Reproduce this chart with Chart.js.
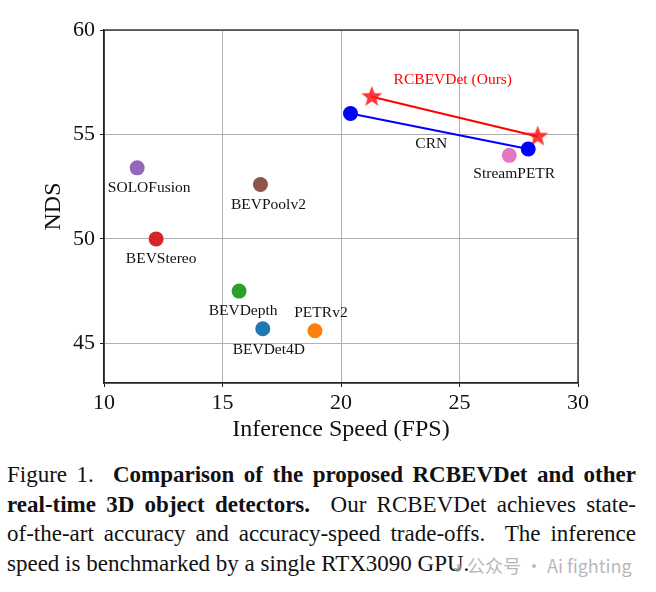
<!DOCTYPE html>
<html>
<head>
<meta charset="utf-8">
<script src="https://cdn.jsdelivr.net/npm/chart.js@4.4.0/dist/chart.umd.min.js"></script>
<style>
  html, body { margin: 0; padding: 0; background: #fff; }
  #wrap { position: relative; width: 656px; height: 448px; }
  .caption {
    font-family: "Liberation Serif", "DejaVu Serif", serif;
    font-size: 23px; line-height: 29.5px; color: #111;
    margin: 12px 0 0 7px; width: 629px;
  }
  .caption div { white-space: nowrap; }
  .caption .j { text-align: justify; text-align-last: justify; }
  .mark {
    position: absolute; left: 452px; top: 552px;
    font-family: "Noto Sans CJK SC", "Noto Sans", sans-serif;
    font-size: 18px; color: rgba(150, 150, 150, 0.7);
  }
</style>
</head>
<body>
<div id="wrap"><canvas id="chart" width="656" height="448"></canvas></div>
<div class="caption">
  <div class="j">Figure 1.&nbsp; <b>Comparison of the proposed RCBEVDet and other</b></div>
  <div class="j"><b>real-time 3D object detectors.</b>&nbsp; Our RCBEVDet achieves state-</div>
  <div class="j">of-the-art accuracy and accuracy-speed trade-offs.&nbsp; The inference</div>
  <div>speed is benchmarked by a single RTX3090 GPU.</div>
</div>
<div class="mark">◕ 公众号 · Ai fighting</div>
<script>
// data
const models = ['BEVDet4D', 'PETRv2', 'BEVDepth', 'BEVStereo', 'SOLOFusion', 'BEVPoolv2', 'StreamPETR'];
const speeds = [16.7, 18.9, 15.7, 12.2, 11.4, 16.6, 27.1];
const ndsValues = [45.7, 45.6, 47.5, 50.0, 53.4, 52.6, 54.0];
const crnSpeeds = [20.4, 27.9];
const crnNds = [56.0, 54.3];
const oursSpeeds = [21.3, 28.3];
const oursNds = [56.8, 54.9];
const xTicks = [10, 15, 20, 25, 30];
const yTicks = [45, 50, 55, 60];

// styling
const colors = ['#1f77b4', '#ff7f0e', '#2ca02c', '#d62728', '#9467bd', '#8c564b', '#e377c2'];
const labelOffsets = [[6, 21], [6, -18], [4, 20], [5, 20], [12, 20], [8, 20], [5, 19]];
const serif = '"Liberation Serif", "DejaVu Serif", serif';

// filled five point star for our method
function makeStar(size, color) {
    const c = document.createElement('canvas');
    c.width = size; c.height = size;
    const g = c.getContext('2d');
    const cx = size / 2, cy = size / 2, ro = size / 2 - 1, ri = ro * 0.42;
    g.beginPath();
    for (let i = 0; i < 10; i++) {
        const r = i % 2 ? ri : ro;
        const a = -Math.PI / 2 + i * Math.PI / 5;
        g.lineTo(cx + r * Math.cos(a), cy + r * Math.sin(a));
    }
    g.closePath();
    g.fillStyle = color;
    g.fill();
    return c;
}
const star = makeStar(24, 'rgba(255, 20, 20, 0.85)');

const datasets = models.map((m, i) => ({
    label: m,
    data: [{ x: speeds[i], y: ndsValues[i] }],
    pointRadius: 7.5,
    pointBackgroundColor: colors[i],
    pointBorderWidth: 0,
    showLine: false,
    labelText: m,
    labelOffset: labelOffsets[i]
}));
datasets.push({
    label: 'CRN',
    data: crnSpeeds.map((x, i) => ({ x: x, y: crnNds[i] })),
    showLine: true,
    borderColor: '#0000ff',
    borderWidth: 2,
    pointRadius: 7.5,
    pointBackgroundColor: '#0000ff',
    pointBorderWidth: 0,
    labelText: 'CRN',
    labelIndex: 1,
    labelOffset: [-97, -5]
});
datasets.push({
    label: 'RCBEVDet (Ours)',
    data: oursSpeeds.map((x, i) => ({ x: x, y: oursNds[i] })),
    showLine: true,
    borderColor: '#ff0000',
    borderWidth: 2,
    pointStyle: star,
    labelText: 'RCBEVDet (Ours)',
    labelColor: '#ff0000',
    labelIndex: 0,
    labelOffset: [81, -17]
});

// text annotations next to the markers
const pointLabels = {
    id: 'pointLabels',
    afterDatasetsDraw(chart) {
        const ctx = chart.ctx;
        ctx.save();
        ctx.font = '15.5px ' + serif;
        ctx.textAlign = 'center';
        ctx.textBaseline = 'middle';
        chart.data.datasets.forEach((ds, di) => {
            const pt = chart.getDatasetMeta(di).data[ds.labelIndex || 0];
            ctx.fillStyle = ds.labelColor || '#111';
            ctx.fillText(ds.labelText, pt.x + ds.labelOffset[0], pt.y + ds.labelOffset[1]);
        });
        ctx.restore();
    }
};

// full box round the plot like matplotlib spines
const frame = {
    id: 'frame',
    afterDraw(chart) {
        const a = chart.chartArea, ctx = chart.ctx;
        ctx.save();
        ctx.strokeStyle = '#222';
        ctx.lineWidth = 1.3;
        ctx.strokeRect(a.left, a.top, a.right - a.left, a.bottom - a.top);
        ctx.restore();
    }
};

new Chart(document.getElementById('chart'), {
    type: 'scatter',
    data: { datasets: datasets },
    options: {
        responsive: false,
        animation: false,
        events: [],
        layout: { padding: { left: 0, top: 30, right: 78, bottom: 0 } },
        plugins: { legend: { display: false }, tooltip: { enabled: false } },
        scales: {
            x: {
                min: 10, max: 30,
                afterBuildTicks: s => { s.ticks = xTicks.map(v => ({ value: v })); },
                afterFit: s => { s.height = 65; },
                grid: { color: '#b0b0b0', lineWidth: 1, tickLength: 4, tickColor: '#222' },
                border: { color: '#222', width: 1.3 },
                ticks: { color: '#111', font: { family: serif, size: 22 }, padding: 3, maxRotation: 0 },
                title: {
                    display: true, text: 'Inference Speed (FPS)', color: '#111',
                    font: { family: serif, size: 24, lineHeight: 1.2 },
                    padding: { top: 0, bottom: 4 }
                }
            },
            y: {
                min: 43.1, max: 60,
                afterBuildTicks: s => { s.ticks = yTicks.map(v => ({ value: v })); },
                afterFit: s => { s.width = 104; },
                grid: { color: '#b0b0b0', lineWidth: 1, tickLength: 4, tickColor: '#222' },
                border: { color: '#222', width: 1.3 },
                ticks: { color: '#111', font: { family: serif, size: 22 }, padding: 5 },
                title: {
                    display: true, text: 'NDS', color: '#111',
                    font: { family: serif, size: 24, lineHeight: 1.2 },
                    padding: { top: 39, bottom: 0 }
                }
            }
        }
    },
    plugins: [pointLabels, frame]
});
</script>
</body>
</html>
